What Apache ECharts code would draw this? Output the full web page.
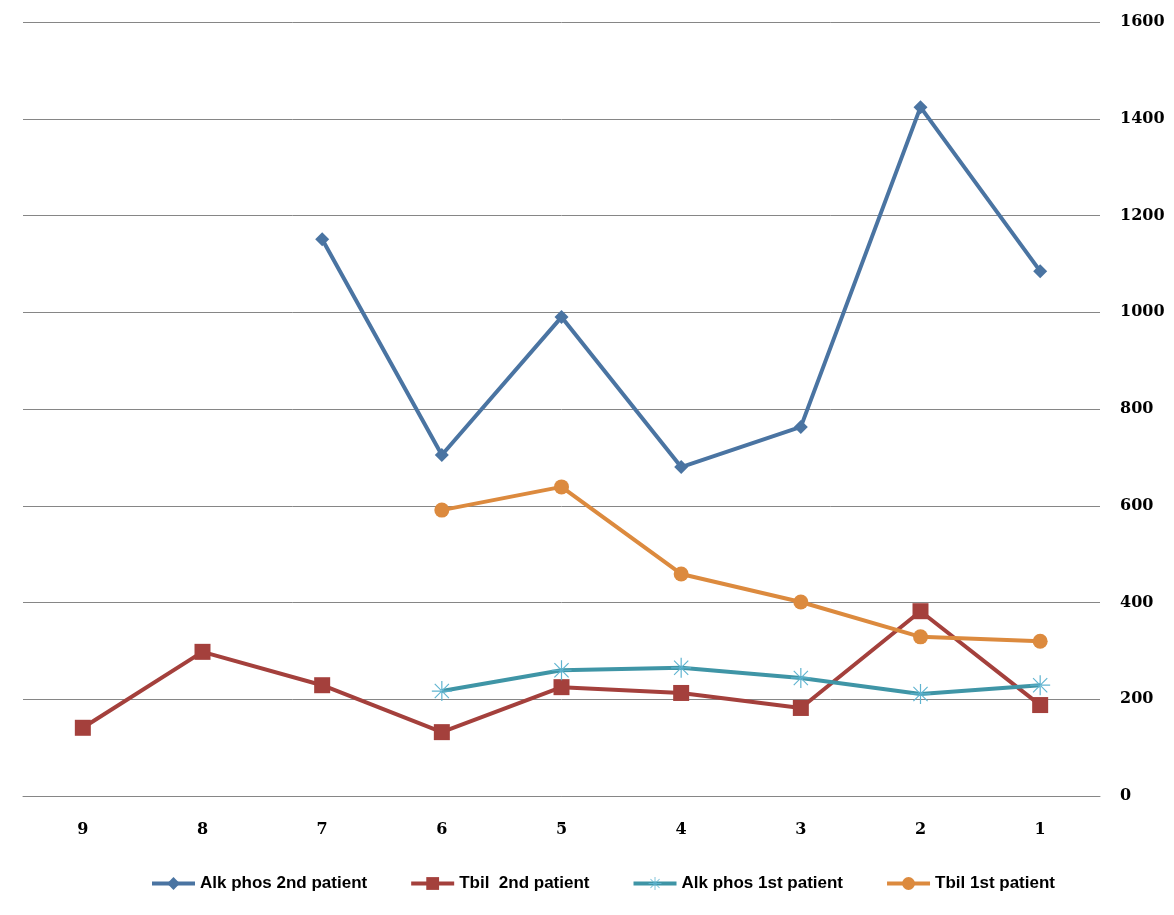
<!DOCTYPE html>
<html>
<head>
<meta charset="utf-8">
<script src="https://cdn.jsdelivr.net/npm/echarts@6/dist/echarts.min.js"></script>
<style>
  html, body { margin: 0; padding: 0; background: #fff; }
  #chart { width: 1174px; height: 915px; }
</style>
</head>
<body>
<div id="chart"></div>
<script>
const categories = ["9", "8", "7", "6", "5", "4", "3", "2", "1"];
const alkPhos2nd = [null, null, 1151, 705, 990, 680, 763, 1424, 1085];
const tbil2nd = [141, 298, 229, 132, 225, 213, 182, 382, 188];
const alkPhos1st = [null, null, null, 217, 260, 265, 244, 211, 229];
const tbil1st = [null, null, null, 591, 639, 459, 401, 329, 320];

const asterisk =
  "path://M-0.6,-10 L0.6,-10 L0.6,10 L-0.6,10 Z " +
  "M-10,-0.6 L10,-0.6 L10,0.6 L-10,0.6 Z " +
  "M-7.5,-6.7 L6.7,7.5 L7.5,6.7 L-6.7,-7.5 Z " +
  "M7.5,-6.7 L-6.7,7.5 L-7.5,6.7 L6.7,-7.5 Z";

const chart = echarts.init(document.getElementById("chart"));

function line(name, data, color, symbol, size, symColor) {
  return {
    name: name,
    type: "line",
    data: data,
    symbol: symbol,
    symbolSize: size,
    showAllSymbol: true,
    connectNulls: false,
    lineStyle: { width: 4, color: color },
    itemStyle: { color: symColor || color },
    emphasis: { disabled: true },
    z: 3
  };
}

chart.setOption({
  animation: false,
  backgroundColor: "#fff",
  grid: { left: 23, right: 74, top: 22, bottom: 119 },
  legend: {
    bottom: 18,
    left: 145,
    itemWidth: 43,
    itemHeight: 16,
    itemGap: 42,
    lineStyle: { width: 4 },
    textStyle: {
      fontFamily: "Liberation Sans Narrow, Arial Narrow, sans-serif",
      fontWeight: "bold",
      fontSize: 17,
      color: "#000"
    }
  },
  xAxis: {
    type: "category",
    data: categories,
    boundaryGap: true,
    axisLine: { lineStyle: { color: "#868686", width: 1 } },
    axisTick: { show: false },
    axisLabel: {
      margin: 26,
      color: "#000",
      fontFamily: "DejaVu Serif, serif",
      fontWeight: "bold",
      fontSize: 16
    }
  },
  yAxis: {
    type: "value",
    position: "right",
    min: 0,
    max: 1600,
    interval: 200,
    axisLine: { show: false },
    axisTick: { show: false },
    splitLine: { lineStyle: { color: "#868686", width: 1 } },
    axisLabel: {
      margin: 20,
      color: "#000",
      fontFamily: "DejaVu Serif, serif",
      fontWeight: "bold",
      fontSize: 16,
      formatter: function (v) { return String(v); }
    }
  },
  series: [
    line("Alk phos 2nd patient", alkPhos2nd, "#4a74a2", "diamond", 14),
    line("Tbil  2nd patient", tbil2nd, "#a4403c", "rect", 16),
    line("Alk phos 1st patient", alkPhos1st, "#3f95a6", asterisk, 20, "#5fb4d0"),
    line("Tbil 1st patient", tbil1st, "#dc8a3e", "circle", 15)
  ]
});
</script>
</body>
</html>
